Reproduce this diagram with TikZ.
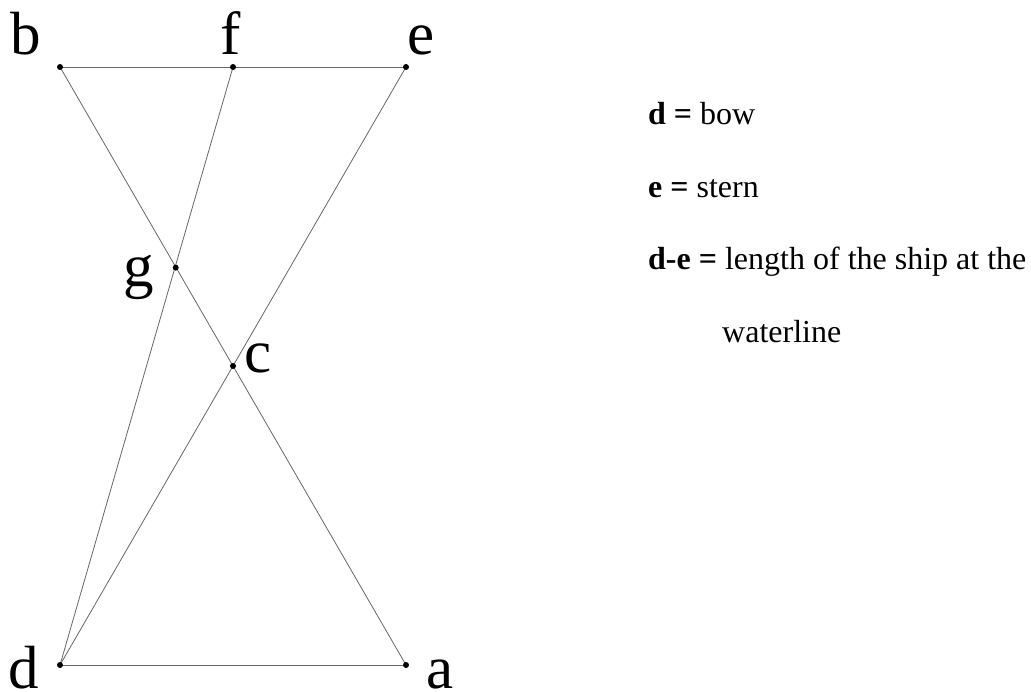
\documentclass[tikz,border=0pt]{standalone}
\usepackage{fontspec}
\setmainfont{Liberation Serif}
\tikzset{
  pt/.style={circle,fill=black,inner sep=0pt,minimum size=6pt},
  edge/.style={draw=black!60,line width=0.8pt},
  lbl/.style={anchor=base,inner sep=0pt,font=\fontsize{61}{64}\selectfont},
  txt/.style={anchor=base west,inner sep=0pt,font=\fontsize{32}{36}\selectfont},
}
\begin{document}
\begin{tikzpicture}[x=1pt,y=-1pt]
\useasboundingbox (0,0) rectangle (1031,692);
\coordinate (B) at (60,67);
\coordinate (F) at (233,67);
\coordinate (E) at (406,67);
\coordinate (D) at (60,665);
\coordinate (A) at (406,665);
\coordinate (G) at (175.7,267.6);
\coordinate (C) at (233,366);
\draw[edge] (B) -- (E);
\draw[edge] (D) -- (A);
\draw[edge] (B) -- (A);
\draw[edge] (F) -- (D);
\draw[edge] (E) -- (D);
\foreach \p in {B,F,E,D,A,G,C} \node[pt] (n\p) at (\p) {};
\node[lbl] (lb) at (26,55) {b};
\node[lbl] (lf) at (231,55) {f};
\node[lbl] (le) at (421,55) {e};
\node[lbl] (lg) at (139,287) {g};
\node[lbl] (lc) at (258,373) {c};
\node[lbl] (ld) at (24,688) {d};
\node[lbl] (la) at (440,688) {a};
\node[txt] (t1) at (648,125) {\textbf{d =} bow};
\node[txt] (t2) at (648,198) {\textbf{e =} stern};
\node[txt] (t3) at (648,270) {\textbf{d-e =} length of the ship at the};
\node[txt] (t4) at (722,343) {waterline};
\end{tikzpicture}
\end{document}
